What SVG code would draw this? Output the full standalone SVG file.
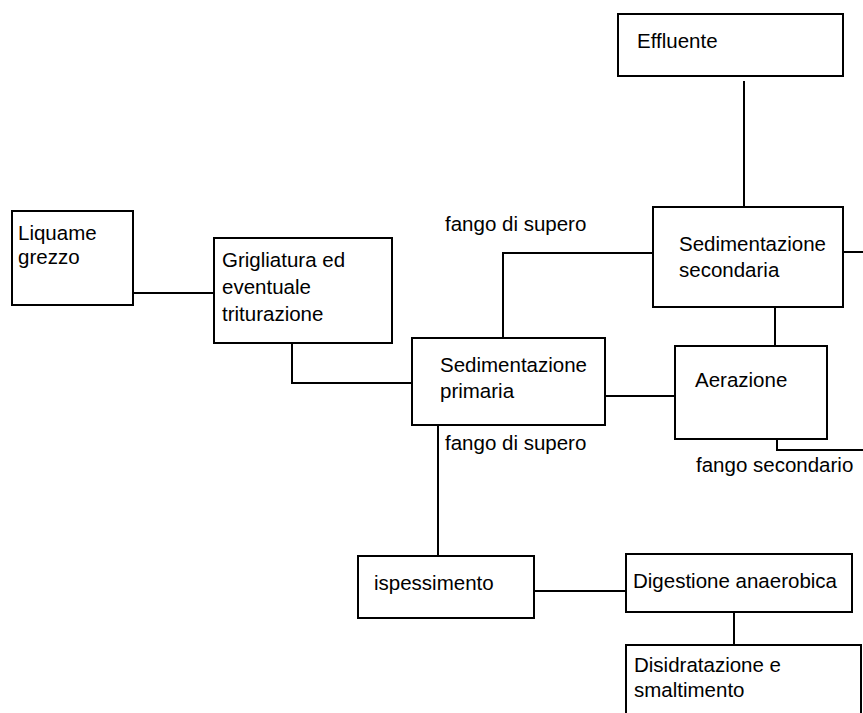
<svg xmlns="http://www.w3.org/2000/svg" width="863" height="713" viewBox="0 0 863 713">
<style>
.box{fill:#fff;stroke:#000;stroke-width:2}
.ln{fill:none;stroke:#000;stroke-width:2}
text{font-family:"Liberation Sans",Arial,sans-serif;font-size:20.5px;fill:#000}
</style>
<rect width="863" height="713" fill="#fff"/>
<g id="connectors">
<path class="ln" d="M744,81V207"/>
<path class="ln" d="M133,293H214"/>
<path class="ln" d="M292,343V383H412"/>
<path class="ln" d="M653,253H503V338"/>
<path class="ln" d="M843,252H863"/>
<path class="ln" d="M605,396H675"/>
<path class="ln" d="M775,307V346"/>
<path class="ln" d="M777,439V450H863"/>
<path class="ln" d="M438,425V556"/>
<path class="ln" d="M534,591H626"/>
<path class="ln" d="M734,612V645"/>
</g>
<g id="labels">
<text x="445" y="231">fango di supero</text>
<text x="445" y="450">fango di supero</text>
<text x="696" y="472">fango secondario</text>
</g>
<g id="effluente"><rect class="box" x="618" y="14" width="225" height="62"/><text x="637" y="48">Effluente</text></g>
<g id="liquame"><rect class="box" x="12" y="211" width="121" height="94"/><text x="18" y="240">Liquame</text><text x="18" y="264">grezzo</text></g>
<g id="grigliatura"><rect class="box" x="214" y="238" width="178" height="105"/><text x="222" y="267">Grigliatura ed</text><text x="222" y="294">eventuale</text><text x="222" y="321">triturazione</text></g>
<g id="sed-secondaria"><rect class="box" x="653" y="207" width="190" height="100"/><text x="679" y="251">Sedimentazione</text><text x="679" y="277">secondaria</text></g>
<g id="sed-primaria"><rect class="box" x="412" y="338" width="193" height="87"/><text x="440" y="372">Sedimentazione</text><text x="440" y="398">primaria</text></g>
<g id="aerazione"><rect class="box" x="675" y="346" width="152" height="93"/><text x="695" y="387">Aerazione</text></g>
<g id="ispessimento"><rect class="box" x="358" y="556" width="176" height="62"/><text x="374" y="590">ispessimento</text></g>
<g id="digestione"><rect class="box" x="626" y="554" width="226" height="58"/><text x="633" y="588">Digestione anaerobica</text></g>
<g id="disidratazione"><rect class="box" x="626" y="645" width="235" height="80"/><text x="634" y="672">Disidratazione e</text><text x="634" y="697">smaltimento</text></g>
</svg>
